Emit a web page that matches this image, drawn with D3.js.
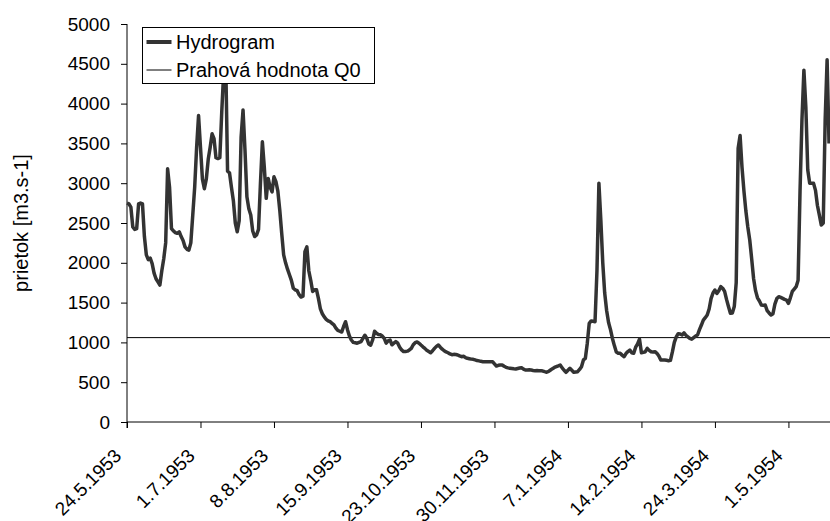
<!DOCTYPE html>
<html>
<head>
<meta charset="utf-8">
<script src="https://cdn.jsdelivr.net/npm/d3@7"></script>
<style>
  html, body { margin: 0; padding: 0; background: #fff; }
  svg { display: block; font-family: Arial, "Liberation Sans", sans-serif; }
</style>
</head>
<body>
<svg id="chart" width="830" height="521"></svg>
<script>
// ---- data ----
const startDate = "24.5.1953";
const tickLabels = ["24.5.1953", "1.7.1953", "8.8.1953", "15.9.1953", "23.10.1953",
                    "30.11.1953", "7.1.1954", "14.2.1954", "24.3.1954", "1.5.1954"];
const yTicks = [0, 500, 1000, 1500, 2000, 2500, 3000, 3500, 4000, 4500, 5000];
const thresholdQ0 = 1060;
const seriesNames = ["Hydrogram", "Prahová hodnota Q0"];
// daily discharge [m3/s] from 24.5.1953
const flow = [
  2750, 2740, 2700, 2450, 2420, 2430, 2740, 2750, 2740, 2330,
  2100, 2040, 2060, 1990, 1870, 1800, 1760, 1720, 1900, 2050,
  2250, 3180, 2950, 2430, 2400, 2380, 2370, 2390, 2330, 2280,
  2200, 2170, 2160, 2250, 2600, 2950, 3450, 3850, 3450, 3050,
  2930, 3050, 3300, 3450, 3620, 3560, 3320, 3310, 3320, 3900,
  4400, 4600, 3150, 3130, 2950, 2780, 2500, 2390, 2530, 3580,
  3920, 3420, 2830, 2680, 2600, 2400, 2330, 2350, 2420, 3000,
  3520, 3200, 2810, 3060, 2950, 2890, 3080, 3020, 2900, 2660,
  2370, 2100, 2000, 1920, 1850, 1780, 1680, 1660, 1650, 1600,
  1570, 1580, 2140, 2200, 1900, 1780, 1640, 1660, 1660, 1550,
  1420, 1360, 1320, 1290, 1270, 1260, 1240, 1220, 1180, 1150,
  1140, 1130, 1200, 1260, 1160, 1080, 1030, 1000, 995, 990,
  1000, 1010, 1050, 1090, 1050, 980, 965, 1030, 1140, 1115,
  1100, 1095, 1080, 1050, 990, 1020, 1030, 970, 990, 1010,
  990, 940, 905, 885, 885, 890, 905, 925, 970, 996,
  1005, 990, 967, 945, 925, 900, 885, 870, 895, 925,
  950, 967, 940, 915, 895, 880, 870, 855, 845, 850,
  848, 842, 830, 820, 825, 810, 800, 795, 790, 787,
  780, 772, 768, 762, 758, 758, 756, 758, 757, 758,
  730, 703, 712, 716, 716, 700, 687, 680, 676, 672,
  668, 666, 672, 678, 682, 665, 653, 653, 655, 653,
  648, 645, 646, 645, 645, 640, 632, 625, 635, 653,
  670, 685, 695, 705, 716, 680, 650, 624, 650, 674,
  650, 624, 628, 632, 660, 695, 780, 800, 990, 1240,
  1270, 1265, 1260, 1900, 3000, 2540, 2000, 1620, 1400, 1250,
  1160, 1050, 960, 880, 865, 863, 840, 820, 860, 885,
  904, 870, 863, 940, 980, 1040, 870, 875, 883, 925,
  900, 883, 880, 883, 863, 830, 780, 778, 779, 775,
  770, 775, 880, 1000, 1070, 1110, 1105, 1093, 1120, 1090,
  1070, 1050, 1040, 1060, 1080, 1093, 1160, 1218, 1280, 1310,
  1344, 1420, 1550, 1620, 1658, 1616, 1650, 1700, 1680, 1640,
  1540, 1450, 1365, 1370, 1450, 1750, 3440, 3600, 3200, 2900,
  2650, 2450, 2286, 2050, 1800, 1650, 1560, 1520, 1470, 1465,
  1470, 1400, 1370, 1344, 1360, 1480, 1550, 1574, 1565, 1553,
  1540, 1532, 1491, 1560, 1640, 1670, 1700, 1780, 2900, 3800,
  4420, 3960, 3165, 3000, 2998, 2998, 2910, 2720, 2600, 2474,
  2500, 3800, 4550, 3500
];

// ---- chart ----
const parse = d3.timeParse("%d.%m.%Y");
const t0 = parse(startDate);
const dayDate = i => d3.timeDay.offset(t0, i);
const data = flow.map((v, i) => ({ date: dayDate(i), value: v }));

const svg = d3.select("#chart");
const plot = { left: 127, top: 24, bottom: 422 };
const tickDates = tickLabels.map(parse);

const x = d3.scaleTime()
  .domain([t0, d3.timeDay.offset(t0, 380)])
  .range([plot.left, plot.left + 380 * 1.934]);
const y = d3.scaleLinear().domain([0, 5000]).range([plot.bottom, plot.top]);

// y axis
const yAxis = svg.append("g")
  .attr("transform", `translate(${plot.left},0)`)
  .call(d3.axisLeft(y).tickValues(yTicks).tickSize(6).tickPadding(11).tickFormat(d3.format("d")));
yAxis.select(".domain").attr("d", `M0,${plot.top}V${plot.bottom + 6}`).attr("stroke", "#000");
yAxis.selectAll(".tick line").attr("stroke", "#000");
yAxis.selectAll("text").attr("font-size", 19).attr("fill", "#000");

// x axis
const xAxis = svg.append("g")
  .attr("transform", `translate(0,${plot.bottom})`)
  .call(d3.axisBottom(x).tickValues(tickDates).tickSize(6)
        .tickFormat((d, i) => tickLabels[i]));
xAxis.select(".domain").attr("d", `M${plot.left},0H830`).attr("stroke", "#000");
xAxis.selectAll(".tick line").attr("stroke", "#000");
xAxis.selectAll("text")
  .attr("font-size", 19)
  .attr("fill", "#000")
  .attr("text-anchor", "end")
  .attr("x", 0).attr("y", 0)
  .attr("dy", "0")
  .attr("transform", "translate(-5,35) rotate(-45)");

// y label
svg.append("text")
  .attr("transform", `translate(28,${(plot.top + plot.bottom) / 2}) rotate(-90)`)
  .attr("text-anchor", "middle")
  .attr("font-size", 20)
  .attr("fill", "#000")
  .text("prietok [m3.s-1]");

// threshold
svg.append("line")
  .attr("x1", plot.left).attr("x2", 830)
  .attr("y1", y(thresholdQ0)).attr("y2", y(thresholdQ0))
  .attr("stroke", "#000").attr("stroke-width", 1);

// hydrogram
const line = d3.line().x(d => x(d.date)).y(d => y(d.value));
svg.append("path")
  .datum(data)
  .attr("fill", "none")
  .attr("stroke", "#333")
  .attr("stroke-width", 3.5)
  .attr("stroke-linejoin", "round")
  .attr("d", line);

// legend
const lg = svg.append("g").attr("transform", "translate(142.5,27.5)");
lg.append("rect").attr("width", 232).attr("height", 56)
  .attr("fill", "#fff").attr("stroke", "#000").attr("stroke-width", 1);
const rows = [{ name: seriesNames[0], w: 4, c: "#333", y: 14.5 },
              { name: seriesNames[1], w: 1, c: "#000", y: 42.5 }];
rows.forEach(r => {
  lg.append("line").attr("x1", 4).attr("x2", 29).attr("y1", r.y).attr("y2", r.y)
    .attr("stroke", r.c).attr("stroke-width", r.w);
  lg.append("text").attr("x", 33.5).attr("y", r.y).attr("dy", "0.36em")
    .attr("font-size", 20).attr("fill", "#000").text(r.name);
});
</script>
</body>
</html>
